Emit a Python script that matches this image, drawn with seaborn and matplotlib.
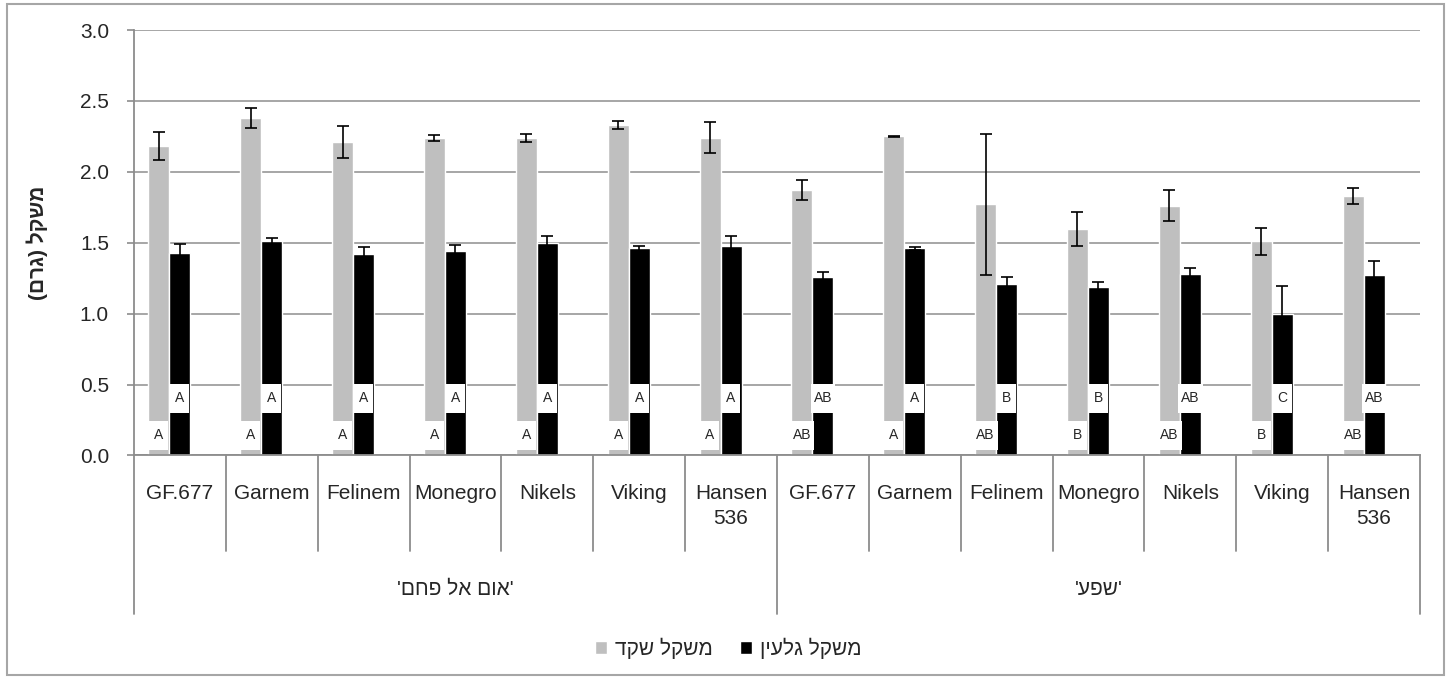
import numpy as np
import pandas as pd
import matplotlib
matplotlib.use("Agg")
import matplotlib.pyplot as plt
from matplotlib.patches import Patch, Rectangle
import seaborn as sns

# ---- data ----
rootstocks = ["GF.677", "Garnem", "Felinem", "Monegro", "Nikels", "Viking", "Hansen\n536"]
locations = ["'אום אל פחם'", "'שפע'"]
series_names = ["משקל שקד", "משקל גלעין"]

almond_weight = [2.18, 2.38, 2.21, 2.24, 2.24, 2.33, 2.24,
                 1.87, 2.25, 1.77, 1.60, 1.76, 1.51, 1.83]
almond_err = [0.10, 0.07, 0.115, 0.02, 0.03, 0.025, 0.11,
              0.07, 0.004, 0.50, 0.12, 0.11, 0.095, 0.058]
kernel_weight = [1.43, 1.51, 1.42, 1.44, 1.50, 1.46, 1.48,
                 1.26, 1.46, 1.21, 1.19, 1.28, 1.00, 1.27]
kernel_err = [0.06, 0.02, 0.05, 0.045, 0.045, 0.02, 0.065,
              0.035, 0.013, 0.046, 0.035, 0.045, 0.195, 0.10]
almond_letters = ["A", "A", "A", "A", "A", "A", "A",
                  "AB", "A", "AB", "B", "AB", "B", "AB"]
kernel_letters = ["A", "A", "A", "A", "A", "A", "A",
                  "AB", "A", "B", "B", "AB", "C", "AB"]


def vis(s):
    # matplotlib has no bidi support: lay out Hebrew in visual order
    return s[::-1].translate(str.maketrans("()", ")("))


n = len(almond_weight)
keys = [str(i) for i in range(n)]
df = pd.DataFrame({
    "pos": keys * 2,
    "series": [series_names[0]] * n + [series_names[1]] * n,
    "weight": almond_weight + kernel_weight,
})

sns.set_style("white")
plt.rcParams["font.family"] = ["Liberation Sans", "DejaVu Sans"]

GREY = "#bfbfbf"
LINE = "#8c8c8c"

fig = plt.figure(figsize=(14.5, 6.79), dpi=100)
ax = fig.add_axes([0.0924, 0.3292, 0.9793 - 0.0924, 0.9558 - 0.3292])

# third (empty) hue slot reproduces Excel's bar spacing
sns.barplot(data=df, x="pos", y="weight", hue="series", order=keys,
            hue_order=series_names + ["_pad"],
            palette={series_names[0]: GREY, series_names[1]: "black", "_pad": "white"},
            width=0.687, errorbar=None, legend=False, saturation=1, ax=ax, zorder=2)

bars = ax.patches
grey_x = [p.get_x() + p.get_width() / 2 for p in bars[:n]]
black_x = [p.get_x() + p.get_width() / 2 for p in bars[n:2 * n]]
bw = bars[0].get_width()

ax.errorbar(grey_x, almond_weight, yerr=almond_err, fmt="none", ecolor="black",
            elinewidth=1.2, capsize=4, capthick=1.2, zorder=3)
ax.errorbar(black_x, kernel_weight, yerr=kernel_err, fmt="none", ecolor="black",
            elinewidth=1.2, capsize=4, capthick=1.2, zorder=3)

# significance letters in white boxes
for xs, letters, yc in [(grey_x, almond_letters, 0.141), (black_x, kernel_letters, 0.405)]:
    for x, lab in zip(xs, letters):
        w = 0.14 + 0.065 * len(lab)
        ax.add_patch(Rectangle((x - w / 2, yc - 0.102), w, 0.204, facecolor="white",
                               edgecolor="none", zorder=4))
        ax.text(x, yc, lab, ha="center", va="center", fontsize=10, zorder=5)

ax.set_ylim(0, 3)
ax.set_xlim(-0.5, n - 0.5)
ax.set_yticks(np.arange(0, 3.01, 0.5))
ax.set_yticklabels([f"{v:.1f}" for v in np.arange(0, 3.01, 0.5)], fontsize=15)
ax.tick_params(axis="y", length=5, width=1.2, color=LINE, pad=13, left=True)
ax.tick_params(axis="x", length=0, labelbottom=False)
ax.set_xlabel("")
ax.yaxis.grid(True, color="#a6a6a6", lw=1.4)
ax.set_axisbelow(True)
for side in ["top", "right"]:
    ax.spines[side].set_visible(False)
for side in ["left", "bottom"]:
    ax.spines[side].set_color(LINE)
    ax.spines[side].set_linewidth(1.3)

ax.set_ylabel(vis("משקל (גרם)"), fontsize=15, fontweight="bold")
ax.yaxis.set_label_coords(-0.0669, 0.5)

# two-level category axis
tr = ax.get_xaxis_transform()
for k in range(n + 1):
    xb = k - 0.5
    y_end = -0.3725 if k % len(rootstocks) == 0 else -0.2245
    ax.plot([xb, xb], [0, y_end], color=LINE, lw=1.3, transform=tr, clip_on=False)
for i in range(n):
    ax.text(i, -0.067, rootstocks[i % len(rootstocks)], transform=tr, ha="center",
            va="top", fontsize=15, linespacing=1.4)
for g, loc in enumerate(locations):
    xc = g * len(rootstocks) + (len(rootstocks) - 1) / 2
    ax.text(xc, -0.314, vis(loc), transform=tr, ha="center", va="center", fontsize=15)

handles = [Patch(facecolor=GREY, label=vis(series_names[0])),
           Patch(facecolor="black", label=vis(series_names[1]))]
fig.legend(handles=handles, loc="center", bbox_to_anchor=(0.502, 0.0457), ncol=2,
           frameon=False, fontsize=15, handlelength=0.62, handleheight=0.62,
           handletextpad=0.35, columnspacing=1.3)

# chart-area border
fig.patches.append(Rectangle((7 / 1450, 4 / 679), 1437 / 1450, 671 / 679,
                             transform=fig.transFigure, fill=False,
                             edgecolor="#a6a6a6", lw=1.5))

fig.savefig("out.png", dpi=100)
